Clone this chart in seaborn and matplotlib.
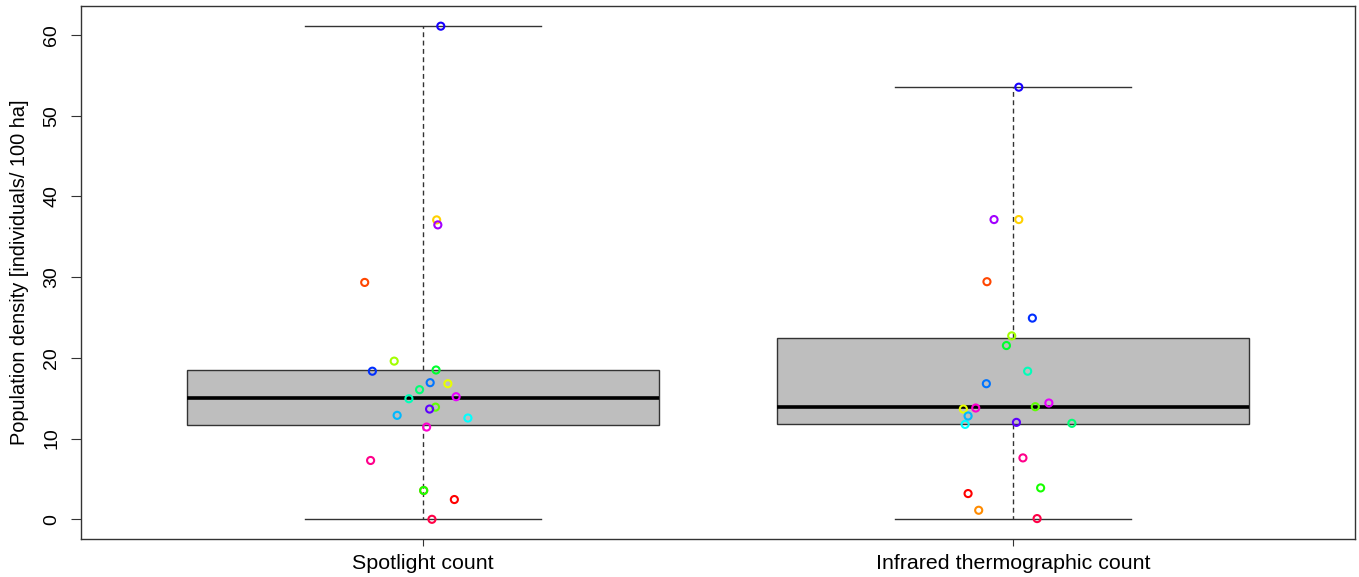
import colorsys
import numpy as np
import pandas as pd
import matplotlib
matplotlib.use("Agg")
import matplotlib.pyplot as plt
import seaborn as sns

# ---- data ----
groups = ["Spotlight count", "Infrared thermographic count"]
site_ids = list(range(22))

spotlight = [2.45, 29.35, 3.57, 37.1, 16.8, 19.6, 13.9, 3.57, 18.5, 16.06, 14.94,
             12.55, 12.88, 16.93, 18.35, 61.1, 13.66, 36.48, 15.19, 11.43, 7.29, 0.0]
infrared = [3.19, 29.44, 1.12, 37.14, 13.66, 22.73, 13.95, 3.89, 21.53, 11.89, 18.35,
            11.76, 12.8, 16.8, 24.93, 53.54, 12.01, 37.14, 14.41, 13.79, 7.61, 0.09]

# horizontal jitter of each point (category units)
spot_jitter = [0.053, -0.099, 0.001, 0.023, 0.042, -0.049, 0.021, 0.001, 0.022, -0.006,
               -0.024, 0.076, -0.044, 0.012, -0.086, 0.030, 0.011, 0.025, 0.056, 0.006,
               -0.089, 0.015]
infra_jitter = [-0.076, -0.044, -0.058, 0.010, -0.084, -0.002, 0.038, 0.047, -0.011, 0.100,
                0.025, -0.081, -0.076, -0.045, 0.033, 0.010, 0.006, -0.032, 0.061, -0.063,
                0.017, 0.041]

y_ticks = [0, 10, 20, 30, 40, 50, 60]
y_label = "Population density [individuals/ 100 ha]"

# ---- tables ----
df = pd.DataFrame({
    "method": [groups[0]] * len(spotlight) + [groups[1]] * len(infrared),
    "density": spotlight + infrared,
    "site": site_ids + site_ids,
    "pos": [0 + j for j in spot_jitter] + [1 + j for j in infra_jitter],
})

# R-style rainbow(22) palette
palette = {i: colorsys.hsv_to_rgb(i / 22, 1, 1) for i in site_ids}

plt.rcParams["font.family"] = ["Liberation Sans", "DejaVu Sans"]

fig = plt.figure(figsize=(13.59, 5.77), dpi=100)
ax = fig.add_axes([81 / 1359, 1 - 539 / 577, (1355 - 81) / 1359, (539 - 6) / 577])

sns.boxplot(data=df, x="method", y="density", order=groups, ax=ax,
            width=0.8, whis=(0, 100), color="#BEBEBE", saturation=1,
            linecolor="#333333", linewidth=1.0,
            medianprops={"color": "black", "linewidth": 2.6},
            whiskerprops={"linestyle": (0, (3.5, 2.5)), "color": "#333333", "linewidth": 1.0},
            capprops={"color": "#333333", "linewidth": 1.0},
            showfliers=False)

sns.scatterplot(data=df, x="pos", y="density", hue="site", palette=palette,
                s=26, marker="o", linewidth=1.5, legend=False, ax=ax, zorder=5)
pts = ax.collections[-1]
fc = pts.get_facecolors()
pts.set_edgecolors(fc)
pts.set_facecolors("none")

ax.set_xlim(-0.58, 1.58)
ax.set_ylim(-2.44, 63.6)
ax.set_xticks([0, 1])
ax.set_xticklabels(groups, fontsize=15.4)
ax.set_yticks(y_ticks)
ax.set_yticklabels([str(v) for v in y_ticks], fontsize=14, rotation=90, va="center")
ax.set_xlabel("")
ax.set_ylabel(y_label, fontsize=14.4, labelpad=10)
ax.tick_params(axis="x", length=5, width=0.8, color="#333333", pad=6)
ax.tick_params(axis="y", length=7, width=0.8, color="#333333", pad=8)
for sp in ax.spines.values():
    sp.set_color("#333333")
    sp.set_linewidth(1.0)
ax.set_facecolor("white")

fig.savefig("out.png", dpi=100, facecolor="white")
